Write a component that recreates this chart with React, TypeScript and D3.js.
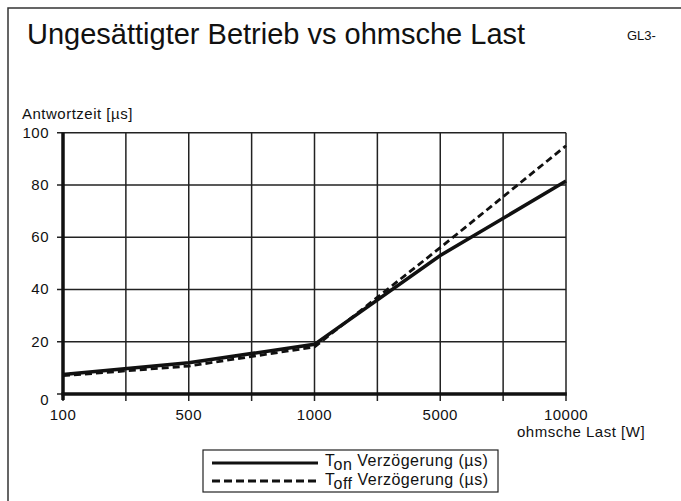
import React from "react";
import * as d3 from "d3";

// x positions are equally spaced slots; labels on every second gridline
const xLabels = ["100", "500", "1000", "5000", "10000"];
const xSlots = [0, 2, 4, 6, 8];
const tonValues = [7.5, 12, 19, 53, 81.5];
const toffValues = [7, 10.7, 18, 56, 95];
const yTicks = [0, 20, 40, 60, 80, 100];

const font = "'Liberation Sans', Arial, Helvetica, sans-serif";

export default function App() {
  const x = d3.scaleLinear().domain([0, 8]).range([63, 566]);
  const y = d3.scaleLinear().domain([0, 100]).range([394, 132.7]);

  const line = d3
    .line<number>()
    .x((d, i) => x(xSlots[i]))
    .y((d) => y(d));

  const gridX = d3.range(0, 9);
  const small = { fontSize: 15, letterSpacing: 0.5, fill: "#111" };

  return (
    <svg
      width={681}
      height={501}
      style={{ position: "absolute", left: 0, top: 0, background: "#fff" }}
      fontFamily={font}
    >
      <rect x={8} y={8} width={700} height={520} fill="none" stroke="#333" strokeWidth={1.5} />

      <text x={27} y={44} fontSize={29} fill="#111">
        Ungesättigter Betrieb vs ohmsche Last
      </text>
      <text x={627} y={40} fontSize={13} fill="#111">
        GL3-
      </text>

      <text x={22} y={119} {...small}>
        Antwortzeit [µs]
      </text>

      {/* grid */}
      {yTicks.map((t) => (
        <g key={"y" + t}>
          <line x1={57} x2={x(8)} y1={y(t)} y2={y(t)} stroke="#222" strokeWidth={1.5} />
          <text x={49} y={y(t) + (t === 0 ? 11 : 5)} textAnchor="end" {...small}>
            {t}
          </text>
        </g>
      ))}
      {gridX.map((g) => (
        <line key={"x" + g} x1={x(g)} x2={x(g)} y1={y(100)} y2={401} stroke="#222" strokeWidth={1.5} />
      ))}

      {/* axes */}
      <line x1={x(0)} x2={x(0)} y1={y(100)} y2={y(0) + 6} stroke="#111" strokeWidth={3.5} />
      <line x1={x(0) - 1.5} x2={x(8) + 0.75} y1={y(0)} y2={y(0)} stroke="#111" strokeWidth={3.5} />

      {xLabels.map((l, i) => (
        <text key={l} x={x(xSlots[i])} y={420} textAnchor="middle" {...small}>
          {l}
        </text>
      ))}
      <text x={517} y={437} {...small}>
        ohmsche Last [W]
      </text>

      {/* series */}
      <path d={line(toffValues) || ""} fill="none" stroke="#111" strokeWidth={2.8} strokeDasharray="7 4" />
      <path d={line(tonValues) || ""} fill="none" stroke="#111" strokeWidth={3.5} />

      {/* legend */}
      <rect x={203} y={450} width={295} height={42} fill="#fff" stroke="#222" strokeWidth={1.2} />
      <line x1={212} x2={318} y1={463} y2={463} stroke="#111" strokeWidth={3} />
      <line x1={212} x2={318} y1={481} y2={481} stroke="#111" strokeWidth={2.8} strokeDasharray="8 4" />
      <text x={325} y={466} fontSize={16} letterSpacing={0.5} fill="#111">
        T<tspan dy={4}>on</tspan>
        <tspan dy={-4}> Verzögerung (µs)</tspan>
      </text>
      <text x={325} y={485} fontSize={16} letterSpacing={0.5} fill="#111">
        T<tspan dy={4}>off</tspan>
        <tspan dy={-4}> Verzögerung (µs)</tspan>
      </text>
    </svg>
  );
}
